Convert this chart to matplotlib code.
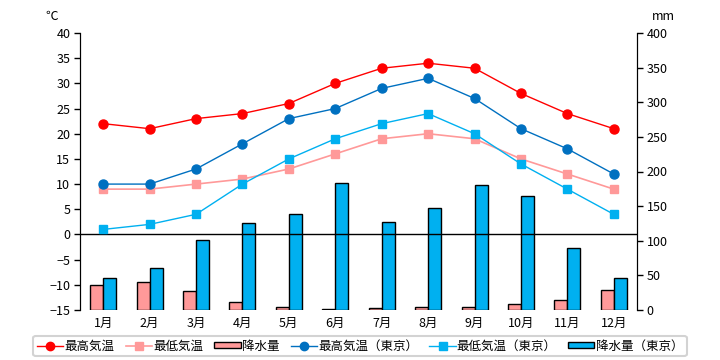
import numpy as np
import matplotlib
matplotlib.use('Agg')
import matplotlib.pyplot as plt
from matplotlib.lines import Line2D
from matplotlib.patches import Patch

plt.rcParams['font.family'] = ['Noto Sans CJK JP', 'DejaVu Sans']

months = ['1月', '2月', '3月', '4月', '5月', '6月', '7月', '8月', '9月', '10月', '11月', '12月']
t_max = [22, 21, 23, 24, 26, 30, 33, 34, 33, 28, 24, 21]
t_min = [9, 9, 10, 11, 13, 16, 19, 20, 19, 15, 12, 9]
rain = [36, 40, 27, 11, 4, 1, 3, 4, 4, 8, 14, 29]
t_max_tokyo = [10, 10, 13, 18, 23, 25, 29, 31, 27, 21, 17, 12]
t_min_tokyo = [1, 2, 4, 10, 15, 19, 22, 24, 20, 14, 9, 4]
rain_tokyo = [46, 60, 101, 126, 139, 184, 127, 148, 181, 164, 89, 46]

c_red = '#FF0000'
c_pink = '#FF9999'
c_blue = '#0070C0'
c_lblue = '#00B0F0'

fig = plt.figure(figsize=(7.2, 3.6), dpi=100)
ax = fig.add_axes([80 / 720, 1 - 310 / 360, 557 / 720, 277 / 360])
ax2 = ax.twinx()

# bars behind lines
ax.set_zorder(ax2.get_zorder() + 1)
ax.patch.set_visible(False)
ax2.patch.set_facecolor('#FFFFCC')

x = np.arange(len(months))
w = 0.28
ax2.bar(x - w / 2, rain, w, color=c_pink, edgecolor='black', linewidth=1)
ax2.bar(x + w / 2, rain_tokyo, w, color=c_lblue, edgecolor='black', linewidth=1)
ax2.set_ylim(0, 400)
ax2.set_yticks(np.arange(0, 401, 50))

ax.axhline(0, color='black', linewidth=1)
ax.plot(x, t_max, color=c_red, marker='o', markersize=6.5, linewidth=1)
ax.plot(x, t_min, color=c_pink, marker='s', markersize=6, linewidth=1.2)
ax.plot(x, t_max_tokyo, color=c_blue, marker='o', markersize=6.5, linewidth=1)
ax.plot(x, t_min_tokyo, color=c_lblue, marker='s', markersize=6, linewidth=1)
ax.set_ylim(-15, 40)
ax.set_yticks(np.arange(-15, 41, 5))
ax.set_xlim(-0.5, 11.5)
ax.set_xticks(x)
ax.set_xticklabels(months)

for a in (ax, ax2):
    for s in ('top', 'bottom'):
        a.spines[s].set_visible(False)
    a.spines['left'].set_color('black')
    a.spines['right'].set_color('black')
    a.tick_params(axis='y', length=4, width=1, labelsize=9, pad=3)
    a.tick_params(axis='x', length=0, labelsize=9, pad=5)

fig.text(52 / 720, 1 - 16 / 360, '℃', fontsize=9, ha='center', va='center')
fig.text(663 / 720, 1 - 16 / 360, 'mm', fontsize=9, ha='center', va='center')

handles = [
    Line2D([], [], color=c_red, marker='o', markersize=6, linewidth=1),
    Line2D([], [], color=c_pink, marker='s', markersize=6, linewidth=1.2),
    Patch(facecolor=c_pink, edgecolor='black', linewidth=1),
    Line2D([], [], color=c_blue, marker='o', markersize=6, linewidth=1),
    Line2D([], [], color=c_lblue, marker='s', markersize=6, linewidth=1),
    Patch(facecolor=c_lblue, edgecolor='black', linewidth=1),
]
labels = ['最高気温', '最低気温', '降水量', '最高気温（東京）', '最低気温（東京）', '降水量（東京）']
leg = fig.legend(handles, labels, loc='center', bbox_to_anchor=(360 / 720, 1 - 346 / 360),
                 ncol=6, fontsize=9, frameon=True, fancybox=True, handlelength=2.1,
                 handleheight=0.4, handletextpad=0.1, columnspacing=0.9,
                 borderpad=0.3, edgecolor='#C8C8C8')
leg.get_frame().set_linewidth(1.5)

fig.savefig('out.png', dpi=100)
